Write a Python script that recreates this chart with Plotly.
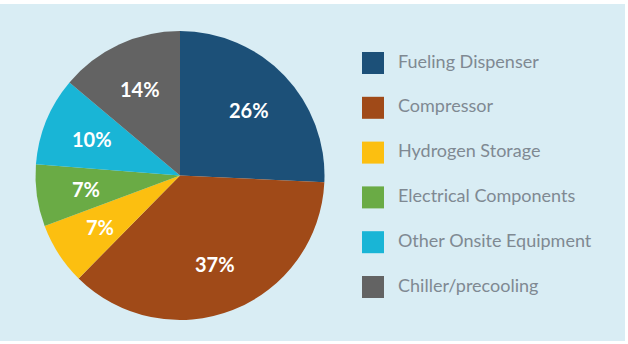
import math
import plotly.graph_objects as go

categories = ["Fueling Dispenser", "Compressor", "Hydrogen Storage",
              "Electrical Components", "Other Onsite Equipment", "Chiller/precooling"]
values = [26, 37, 7, 7, 10, 14]
colors = ["#1c5078", "#a04a18", "#fcbf10", "#6aab45", "#19b5d6", "#636363"]

W, H = 628, 344
BG = "#d9edf4"
CX, CY, R = 180.0, 175.5, 144.5  # pie centre / radius in pixels
LABEL_R = 0.66

fig = go.Figure()
fig.add_trace(go.Pie(
    labels=categories, values=values, sort=False, direction="clockwise", rotation=0,
    marker=dict(colors=colors, line=dict(width=0)),
    textinfo="none",
    domain=dict(x=[(CX - R) / W, (CX + R) / W], y=[(H - CY - R) / H, (H - CY + R) / H]),
    showlegend=False, hoverinfo="label+percent",
))

# percentage labels placed at each slice's mid-angle
total = sum(values)
annotations = []
cum = 0
for v in values:
    theta = 2 * math.pi * (cum + v / 2) / total
    cum += v
    px = CX + LABEL_R * R * math.sin(theta)
    py = CY - LABEL_R * R * math.cos(theta)
    annotations.append(dict(
        x=px / W, y=1 - py / H, xref="paper", yref="paper", showarrow=False,
        text=f"{v}%", xanchor="center", yanchor="middle",
        font=dict(family="Lato", size=20, color="white", weight="bold"),
    ))

# custom legend drawn as a scatter on its own pixel-based axes
idx = list(range(len(categories)))
fig.add_trace(go.Scatter(
    x=[373] * len(categories), y=idx, mode="markers",
    marker=dict(symbol="square", size=22, color=colors, line=dict(width=0)),
    showlegend=False, hoverinfo="skip", xaxis="x", yaxis="y",
))
fig.add_trace(go.Scatter(
    x=[398] * len(categories), y=idx, mode="text", text=categories,
    textposition="middle right",
    textfont=dict(family="Lato", size=18, color="#7f8992"),
    showlegend=False, hoverinfo="skip", xaxis="x", yaxis="y",
))

step = (287 - 63) / 5
fig.update_layout(
    width=W, height=H, margin=dict(l=0, r=0, t=0, b=0),
    paper_bgcolor="white", plot_bgcolor="rgba(0,0,0,0)",
    xaxis=dict(range=[0, W], visible=False, fixedrange=True),
    yaxis=dict(range=[5 + (H - 287) / step, -63 / step], visible=False, fixedrange=True),
    annotations=annotations,
    shapes=[dict(type="rect", xref="paper", yref="paper", x0=0, x1=625 / W,
                 y0=(H - 341) / H, y1=(H - 4) / H, fillcolor=BG, line=dict(width=0),
                 layer="below")],
)
fig.write_html("out.html")
